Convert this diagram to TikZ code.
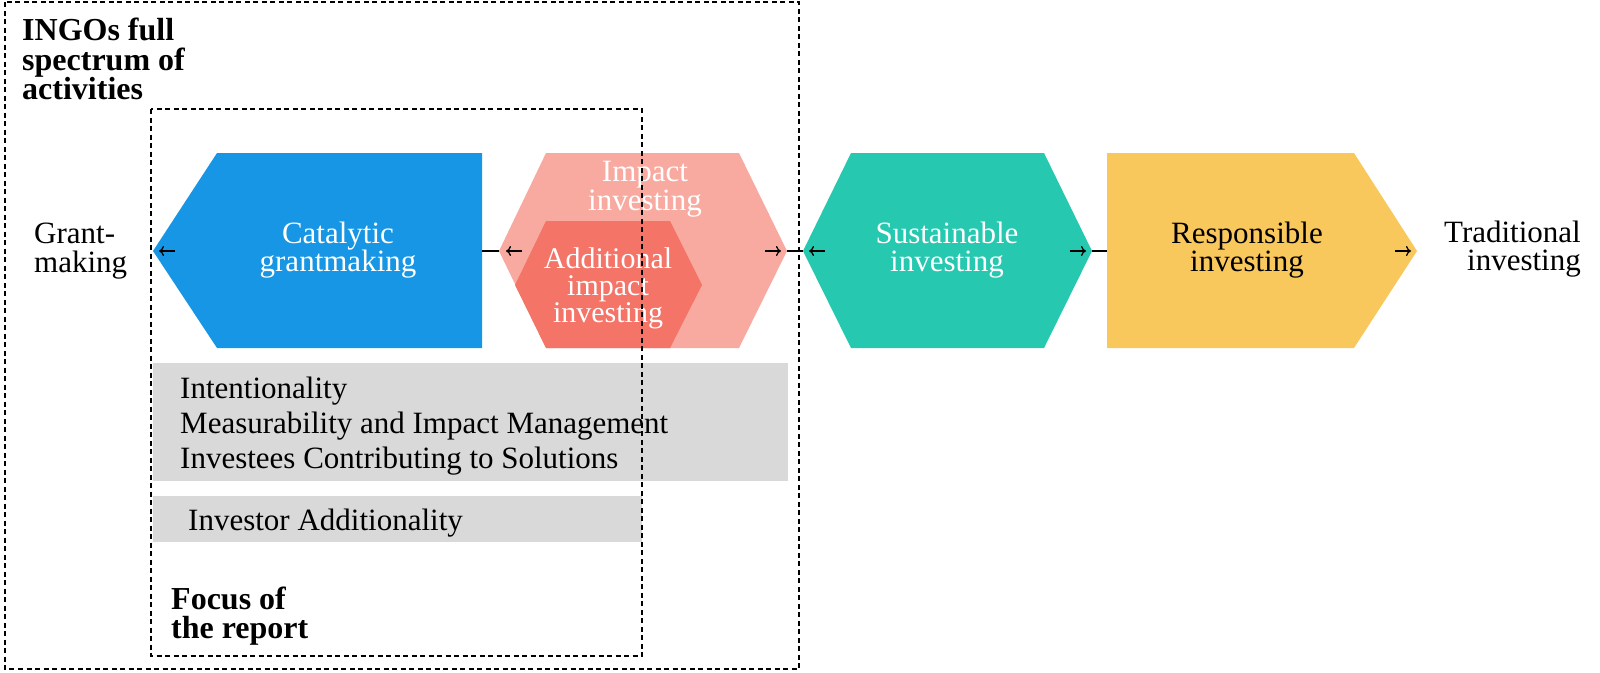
\documentclass[tikz,border=0pt]{standalone}
\usepackage{fontspec}
\setmainfont{Liberation Serif}
\usetikzlibrary{arrows.meta}
\definecolor{cblue}{HTML}{1696E4}
\definecolor{cpink}{HTML}{F8AAA0}
\definecolor{csalmon}{HTML}{F47468}
\definecolor{cteal}{HTML}{26C8B0}
\definecolor{cyellow}{HTML}{F9C85C}
\definecolor{cgray}{HTML}{D9D9D9}
\begin{document}
\begin{tikzpicture}[x=1pt,y=-1pt,
  shapetxt/.style={align=center,text=white,font=\fontsize{31}{28.5}\selectfont,inner sep=0pt},
  plaintxt/.style={font=\fontsize{31}{35}\selectfont,inner sep=0pt},
  boldtxt/.style={font=\fontsize{32}{29.5}\selectfont\bfseries,inner sep=0pt,align=left,anchor=west},
  dashbox/.style={draw=black,dashed,dash pattern=on 5pt off 3.5pt,line width=1.5pt},
  link/.style={draw=black,line width=2.8pt},
  tip/.style={draw=black,line width=1.3pt,-{To[length=5pt,width=10pt]}}]
\useasboundingbox (0,0) rectangle (1600,672);
% shapes
\fill[cblue] (153,251) -- (217,153) -- (482,153) -- (482,348) -- (217,348) -- cycle;
\fill[cpink] (499,251) -- (546,153) -- (739,153) -- (787,251) -- (739,348) -- (546,348) -- cycle;
\fill[csalmon] (515,285) -- (546,221) -- (670,221) -- (702,285) -- (670,348) -- (546,348) -- cycle;
\fill[cteal] (803,251) -- (851,153) -- (1044,153) -- (1092,251) -- (1044,348) -- (851,348) -- cycle;
\fill[cyellow] (1107,153) -- (1354,153) -- (1417,251) -- (1354,348) -- (1107,348) -- cycle;
% anchor coordinates
\coordinate (bL) at (153,251);
\coordinate (bR) at (482,251);
\coordinate (pL) at (499,251);
\coordinate (pR) at (787,251);
\coordinate (tL) at (803,251);
\coordinate (tR) at (1092,251);
\coordinate (yL) at (1107,251);
\coordinate (yR) at (1417,251);
\coordinate (a1s) at (175,251); \coordinate (a1e) at (159,251);
\coordinate (a2s) at (522,251); \coordinate (a2e) at (506,251);
\coordinate (a3s) at (765,251); \coordinate (a3e) at (781,251);
\coordinate (a4s) at (825,251); \coordinate (a4e) at (809,251);
\coordinate (a5s) at (1070,251); \coordinate (a5e) at (1086,251);
\coordinate (a6s) at (1395,251); \coordinate (a6e) at (1411,251);
% connectors
\draw[link] (bR) -- (pL);
\draw[link] (pR) -- (tL);
\draw[link] (tR) -- (yL);
\draw[tip] (a1s) -- (a1e);
\draw[tip] (a2s) -- (a2e);
\draw[tip] (a3s) -- (a3e);
\draw[tip] (a4s) -- (a4e);
\draw[tip] (a5s) -- (a5e);
\draw[tip] (a6s) -- (a6e);
% shape texts
\node[shapetxt] (cat) at (338,250) {Catalytic\\grantmaking};
\node[shapetxt] (imp) at (645,189) {Impact\\investing};
\node[shapetxt,font=\fontsize{30}{27}\selectfont] (add) at (608,288) {Additional\\impact\\investing};
\node[shapetxt] (sus) at (947,250) {Sustainable\\investing};
\node[shapetxt,text=black] (res) at (1247,250) {Responsible\\investing};
\node[shapetxt,text=black,align=left,anchor=west] (grant) at (34,251) {Grant-\\making};
\node[shapetxt,text=black,align=right,anchor=east] (trad) at (1581,249) {Traditional\\investing};
% gray boxes
\fill[cgray] (153,363) rectangle (788,481);
\fill[cgray] (153,496) rectangle (642,542);
\node[plaintxt,align=left,anchor=west] (crit) at (180,426) {Intentionality\\Measurability and Impact Management\\Investees Contributing to Solutions};
\node[plaintxt,anchor=west] (inv) at (188,523) {Investor Additionality};
% titles
\node[boldtxt] (ingo) at (22,59) {INGOs full\\spectrum of\\activities};
\node[boldtxt] (focus) at (171,616) {Focus of\\the report};
% dashed boxes
\draw[dashbox] (5,2) rectangle (799,669);
\draw[dashbox] (151,109) rectangle (642,656);
\end{tikzpicture}
\end{document}
